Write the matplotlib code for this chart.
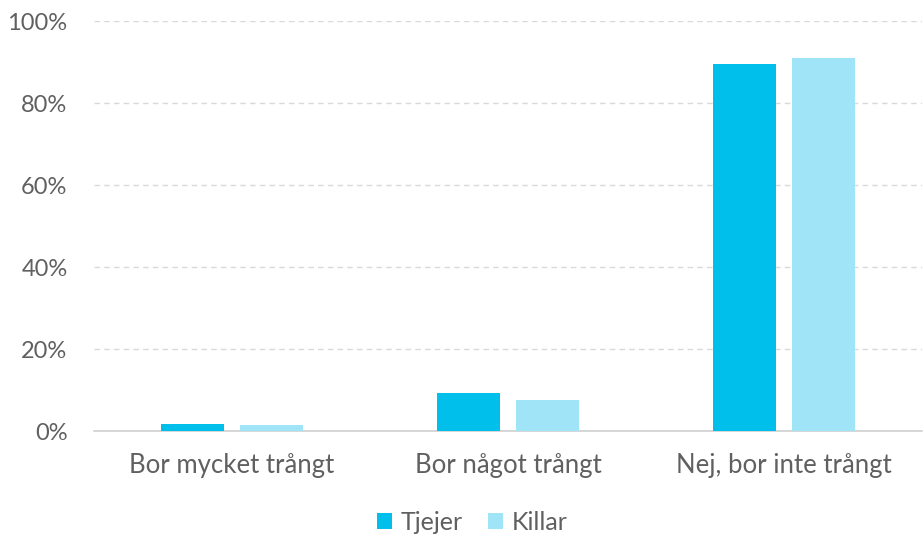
import matplotlib
matplotlib.use("Agg")
import matplotlib.pyplot as plt
import numpy as np

categories = ["Bor mycket trångt", "Bor något trångt", "Nej, bor inte trångt"]
series_names = ["Tjejer", "Killar"]
tjejer = [1.8, 9.2, 89.5]
killar = [1.5, 7.6, 90.9]
colors = ["#00BFEA", "#A0E4F8"]

plt.rcParams['font.family'] = ['Lato', 'DejaVu Sans']
fig = plt.figure(figsize=(9.23, 5.35), dpi=100)
ax = fig.add_axes([94/923, 1-431/535, 828/923, 410/535])

x = np.arange(len(categories))
w = 0.225
ax.bar(x - 0.143, tjejer, w, color=colors[0], label=series_names[0], zorder=3)
ax.bar(x + 0.143, killar, w, color=colors[1], label=series_names[1], zorder=3)

ax.set_xlim(-0.5, 2.5)
ax.set_ylim(0, 100)
ax.set_yticks([0, 20, 40, 60, 80, 100])
ax.set_yticklabels([f"{v}%" for v in [0, 20, 40, 60, 80, 100]])
ax.set_xticks(x)
ax.set_xticklabels(categories)
ax.yaxis.grid(True, linestyle=(0, (4, 3)), color="#d9d9d9", linewidth=1)
ax.set_axisbelow(True)
for s in ["top", "right", "left"]:
    ax.spines[s].set_visible(False)
ax.spines["bottom"].set_color("#d0d0d0")
ax.spines["bottom"].set_linewidth(1.2)
ax.tick_params(axis="both", length=0, colors="#606060", labelsize=17)
ax.tick_params(axis="x", pad=16, labelsize=18.5)
ax.tick_params(axis="y", pad=19)

leg = fig.legend(loc="center", bbox_to_anchor=(0.512, 1 - 522/535), ncol=2, frameon=False,
                 fontsize=18, handlelength=0.6, handleheight=0.6, handletextpad=0.35,
                 columnspacing=1.0, labelcolor="#606060", borderaxespad=0, borderpad=0)
fig.savefig("out.png", dpi=100)
